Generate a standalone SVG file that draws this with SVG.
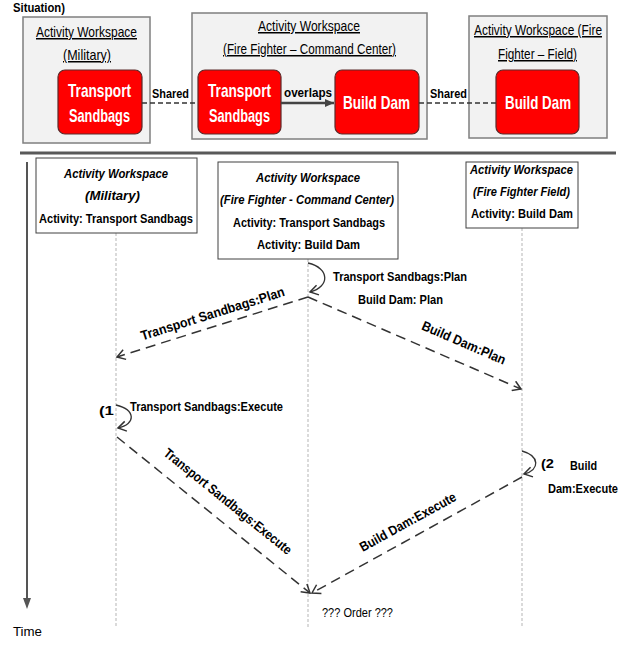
<svg xmlns="http://www.w3.org/2000/svg" width="644" height="646" viewBox="0 0 644 646">
<style>
text{font-family:"Liberation Sans",Arial,sans-serif;fill:#000}
.u{font-size:15px;text-decoration:underline}
.rt{font-size:19px;font-weight:bold;fill:#fff}
.b{font-size:13.5px;font-weight:bold}
.bi{font-size:13.5px;font-weight:bold;font-style:italic}
.n{font-size:13.5px}
.ws{fill:#f2f2f2;stroke:#7f7f7f;stroke-width:1.5}
.red{fill:#ff0000;stroke:#5a2a2a;stroke-width:1.2}
.lb{fill:#fff;stroke:#404040;stroke-width:1}
.life{stroke:#b5b5b5;stroke-width:1;stroke-dasharray:3,2;fill:none}
.msg{stroke:#333;stroke-width:1.5;stroke-dasharray:10,6;fill:none;marker-end:url(#open)}
.loop{stroke:#333;stroke-width:1.3;fill:none;marker-end:url(#open)}
.shared{stroke:#333;stroke-width:1.5;stroke-dasharray:5,3;fill:none}
</style>
<defs>
<marker id="open" markerWidth="12" markerHeight="12" refX="10" refY="6" orient="auto" markerUnits="userSpaceOnUse">
<path d="M2,1 L10,6 L2,11" fill="none" stroke="#333" stroke-width="1.5"/>
</marker>
<marker id="solid" markerWidth="10" markerHeight="10" refX="9" refY="5" orient="auto" markerUnits="userSpaceOnUse">
<path d="M0,1 L9,5 L0,9 Z" fill="#444"/>
</marker>
</defs>

<text x="13" y="12" class="b" font-size="14" textLength="52" lengthAdjust="spacingAndGlyphs">Situation)</text>

<g id="ws-military">
<rect class="ws" x="23" y="17" width="127" height="126"/>
<text class="u" x="36" y="37" textLength="101" lengthAdjust="spacingAndGlyphs">Activity Workspace</text>
<text class="u" x="63" y="60" textLength="48" lengthAdjust="spacingAndGlyphs">(Military)</text>
</g>
<g id="ws-command">
<rect class="ws" x="192" y="13" width="235" height="126"/>
<text class="u" x="258" y="31" textLength="102" lengthAdjust="spacingAndGlyphs">Activity Workspace</text>
<text class="u" x="223" y="54" textLength="173" lengthAdjust="spacingAndGlyphs">(Fire Fighter – Command Center)</text>
</g>
<g id="ws-field">
<rect class="ws" x="469" y="16" width="138" height="122"/>
<text class="u" x="474" y="35" textLength="128" lengthAdjust="spacingAndGlyphs">Activity Workspace (Fire</text>
<text class="u" x="498" y="59" textLength="79" lengthAdjust="spacingAndGlyphs">Fighter – Field)</text>
</g>

<g id="ts-military">
<rect class="red" x="58" y="70" width="84" height="64" rx="7"/>
<text class="rt" x="68" y="97" textLength="63" lengthAdjust="spacingAndGlyphs">Transport</text>
<text class="rt" x="69" y="122" textLength="61" lengthAdjust="spacingAndGlyphs">Sandbags</text>
</g>
<g id="ts-command">
<rect class="red" x="198" y="70" width="83" height="64" rx="7"/>
<text class="rt" x="208" y="97" textLength="63" lengthAdjust="spacingAndGlyphs">Transport</text>
<text class="rt" x="209" y="122" textLength="61" lengthAdjust="spacingAndGlyphs">Sandbags</text>
</g>
<g id="bd-command">
<rect class="red" x="335" y="70" width="84" height="64" rx="7"/>
<text class="rt" x="343" y="109" textLength="67" lengthAdjust="spacingAndGlyphs">Build Dam</text>
</g>
<g id="bd-field">
<rect class="red" x="496" y="70" width="83" height="64" rx="7"/>
<text class="rt" x="505" y="109" textLength="66" lengthAdjust="spacingAndGlyphs">Build Dam</text>
</g>

<g id="top-connectors">
<line class="shared" x1="142" y1="103" x2="198" y2="103"/>
<text class="b" x="152" y="98" textLength="37" lengthAdjust="spacingAndGlyphs">Shared</text>
<line x1="281" y1="103" x2="334" y2="103" stroke="#444" stroke-width="2.5" marker-end="url(#solid)"/>
<text class="b" x="284" y="97" textLength="48" lengthAdjust="spacingAndGlyphs">overlaps</text>
<line class="shared" x1="419" y1="103" x2="496" y2="103"/>
<text class="b" x="430" y="98" textLength="37" lengthAdjust="spacingAndGlyphs">Shared</text>
</g>

<line x1="20" y1="153" x2="616" y2="153" stroke="#595959" stroke-width="3"/>

<g id="time-axis">
<line x1="27" y1="162" x2="27" y2="600" stroke="#555" stroke-width="2"/>
<path d="M23,598 L31,598 L27,609 Z" fill="#555"/>
<text class="n" x="13" y="636" textLength="29" lengthAdjust="spacingAndGlyphs">Time</text>
</g>

<g id="lifelines">
<line class="life" x1="116" y1="233" x2="116" y2="627"/>
<line class="life" x1="308" y1="259" x2="308" y2="627"/>
<line class="life" x1="522" y1="228" x2="522" y2="627"/>
</g>

<g id="lane-military">
<rect class="lb" x="36" y="158" width="161" height="75"/>
<text class="bi" x="64" y="178" textLength="104" lengthAdjust="spacingAndGlyphs">Activity Workspace</text>
<text class="bi" x="85" y="200" textLength="55" lengthAdjust="spacingAndGlyphs">(Military)</text>
<text class="b" x="39" y="223" textLength="154" lengthAdjust="spacingAndGlyphs">Activity: Transport Sandbags</text>
</g>
<g id="lane-command">
<rect class="lb" x="218" y="162" width="180" height="97"/>
<text class="bi" x="256" y="182" textLength="104" lengthAdjust="spacingAndGlyphs">Activity Workspace</text>
<text class="bi" x="220" y="204" textLength="174" lengthAdjust="spacingAndGlyphs">(Fire Fighter - Command Center)</text>
<text class="b" x="233" y="227" textLength="152" lengthAdjust="spacingAndGlyphs">Activity: Transport Sandbags</text>
<text class="b" x="257" y="249" textLength="103" lengthAdjust="spacingAndGlyphs">Activity: Build Dam</text>
</g>
<g id="lane-field">
<rect class="lb" x="466" y="162" width="112" height="66"/>
<text class="bi" x="470" y="174" textLength="103" lengthAdjust="spacingAndGlyphs">Activity Workspace</text>
<text class="bi" x="473" y="196" textLength="97" lengthAdjust="spacingAndGlyphs">(Fire Fighter Field)</text>
<text class="b" x="471" y="218" textLength="102" lengthAdjust="spacingAndGlyphs">Activity: Build Dam</text>
</g>

<g id="messages">
<path class="loop" d="M308,263 C330,268 330,287 310,292"/>
<text class="b" x="333" y="281" textLength="134" lengthAdjust="spacingAndGlyphs">Transport Sandbags:Plan</text>
<text class="b" x="358" y="304" textLength="85" lengthAdjust="spacingAndGlyphs">Build Dam: Plan</text>

<line class="msg" x1="308" y1="297" x2="117" y2="357"/>
<text class="b" transform="translate(214,318) rotate(-17.4)" text-anchor="middle" x="0" y="0" textLength="150" lengthAdjust="spacingAndGlyphs">Transport Sandbags:Plan</text>

<line class="msg" x1="308" y1="297" x2="521" y2="389"/>
<text class="b" transform="translate(462,347) rotate(23.3)" text-anchor="middle" x="0" y="0" textLength="90" lengthAdjust="spacingAndGlyphs">Build Dam:Plan</text>

<text class="b" font-size="17" x="99" y="415" textLength="15" lengthAdjust="spacingAndGlyphs">(1</text>
<path class="loop" d="M116,405 C136,410 136,424 118,428"/>
<text class="b" x="130" y="411" textLength="153" lengthAdjust="spacingAndGlyphs">Transport Sandbags:Execute</text>

<line class="msg" x1="117" y1="437" x2="310" y2="593"/>
<text class="b" transform="translate(225,505) rotate(38.9)" text-anchor="middle" x="0" y="0" textLength="160" lengthAdjust="spacingAndGlyphs">Transport Sandbags:Execute</text>

<path class="loop" d="M522,451 C540,456 540,470 524,474"/>
<text class="b" font-size="17" x="541" y="468" textLength="13" lengthAdjust="spacingAndGlyphs">(2</text>
<text class="b" x="570" y="470" textLength="27" lengthAdjust="spacingAndGlyphs">Build</text>
<text class="b" x="548" y="493" textLength="70" lengthAdjust="spacingAndGlyphs">Dam:Execute</text>

<line class="msg" x1="522" y1="477" x2="312" y2="593"/>
<text class="b" transform="translate(410,526) rotate(-28.9)" text-anchor="middle" x="0" y="0" textLength="108" lengthAdjust="spacingAndGlyphs">Build Dam:Execute</text>

<text class="n" x="322" y="617" textLength="71" lengthAdjust="spacingAndGlyphs">??? Order ???</text>
</g>
</svg>
